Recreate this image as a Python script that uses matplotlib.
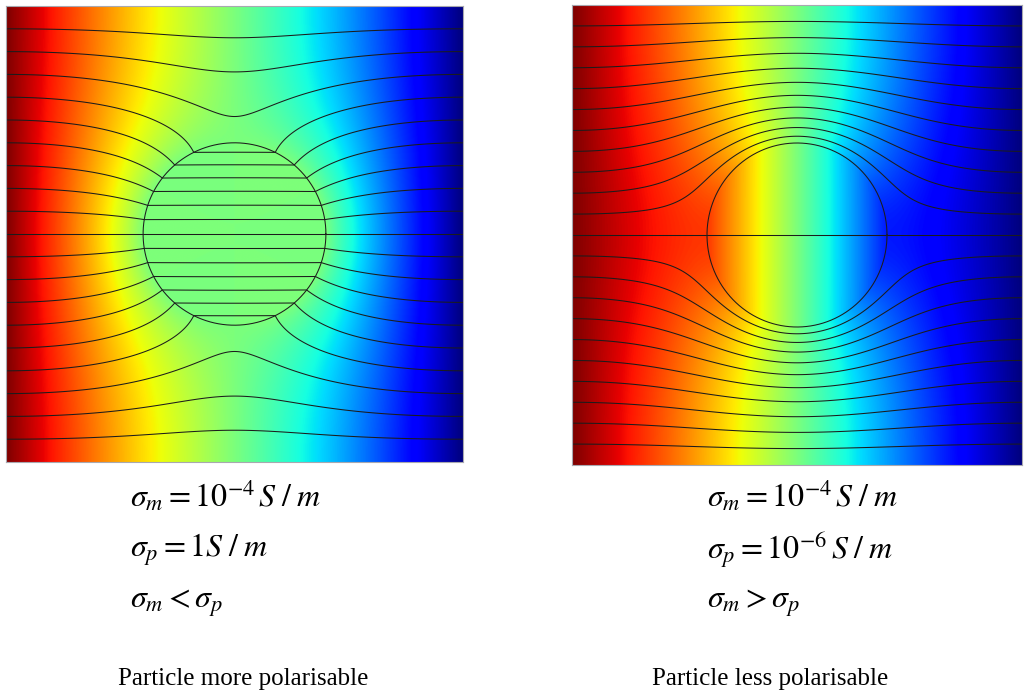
import numpy as np
import matplotlib
matplotlib.use("Agg")
import matplotlib.pyplot as plt

# Conductivities (S/m) of the suspending medium and of the particle, one entry per panel
sigma_medium = [1e-4, 1e-4]
sigma_particle = [1.0, 1e-6]
# Particle radius as a fraction of the square cell side
particle_radius = [0.2, 0.2]
# Streamlines seeded uniformly along the high-potential (left) electrode
n_seeds = [19, 21]

formula_lines = [
    [r"$\sigma_m = 10^{-4}\,S\;/\;m$", r"$\sigma_p = 1S\;/\;m$", r"$\sigma_m < \sigma_p$"],
    [r"$\sigma_m = 10^{-4}\,S\;/\;m$", r"$\sigma_p = 10^{-6}\,S\;/\;m$", r"$\sigma_m > \sigma_p$"],
]
captions = ["Particle more polarisable", "Particle less polarisable"]

# Cell geometry: electrodes at x = -W/2 (V=+0.5) and x = +W/2 (V=-0.5),
# insulating walls at y = -H and y = +H.
W = 1.0
H = 0.5
E0 = 1.0 / W
kk = np.pi / (2 * H)
NIMG = 10
NFOUR = 256


def lattice(z, regular=False):
    """Periodic dipole-image sum satisfying the wall conditions.
    With regular=True the 1/z singularity of the central dipole is removed."""
    z = np.asarray(z, dtype=complex)
    s = np.zeros_like(z)
    for n in range(-NIMG, NIMG + 1):
        with np.errstate(all="ignore"):
            if n == 0 and regular:
                t = kk / np.tanh(kk * z) - 1.0 / z
                t = np.where(np.abs(z) < 1e-6, kk ** 2 * z / 3.0, t)
            else:
                t = kk / np.tanh(kk * (z - n * W))
        s = s + t
    return s - (np.pi / (H * W)) * z


def outer_w(z, A):
    return -E0 * z + A * lattice(z)


def harmonic_extension(values, zeta, nterms=40):
    """Harmonic function inside the unit disc with the given boundary samples."""
    C = np.fft.rfft(values) / len(values)
    acc = np.zeros_like(zeta)
    for n in range(nterms, 0, -1):
        acc = (acc + 2.0 * C[n]) * zeta
    return (acc + C[0]).real


def solve_field(sig_m, sig_p, a, npts=700):
    K = (sig_p - sig_m) / (sig_p + sig_m)
    eps = 1e-3
    g1 = lattice(np.array([eps + 0j]), regular=True)[0].real / eps
    A = K * a ** 2 * E0 / (1.0 + K * a ** 2 * g1)

    x = np.linspace(-W / 2, W / 2, npts)
    y = np.linspace(-H, H, npts)
    X, Y = np.meshgrid(x, y)
    Z = X + 1j * Y
    inside = np.abs(Z) < a

    Zs = np.where(inside, 2.0 * a + 0j, Z)
    w = outer_w(Zs, A)
    phi = w.real.copy()
    psi = w.imag.copy()

    th = 2 * np.pi * np.arange(NFOUR) / NFOUR
    wb = outer_w(a * np.exp(1j * th), A)
    zeta = Z[inside] / a
    phi[inside] = harmonic_extension(wb.real, zeta)
    psi[inside] = harmonic_extension(wb.imag, zeta)
    return x, y, phi, psi, A


def seed_levels(A, n):
    ys = -H + 2 * H * np.arange(1, n + 1) / (n + 1)
    vals = outer_w(-W / 2 + 1j * ys, A).imag
    return np.sort(vals)


plt.rcParams["mathtext.fontset"] = "stix"

fig = plt.figure(figsize=(10.26, 6.98), dpi=100)
FW, FH = 1026.0, 698.0

panel_px = [(6, 6, 457, 456), (572, 5, 450, 460)]
text_x = [130, 707]
text_y = [496, 550, 603]
caption_x = [243, 770]
caption_y = 679

for i in range(2):
    x0, y0, w, h = panel_px[i]
    ax = fig.add_axes([x0 / FW, 1 - (y0 + h) / FH, w / FW, h / FH])
    a = particle_radius[i]
    x, y, phi, psi, A = solve_field(sigma_medium[i], sigma_particle[i], a)

    ax.imshow(phi, extent=[x[0], x[-1], y[0], y[-1]], origin="lower",
              cmap="jet", vmin=-0.5 * E0 * W, vmax=0.5 * E0 * W,
              interpolation="bilinear", aspect="auto")
    levels = seed_levels(A, n_seeds[i])
    ax.contour(x, y, psi, levels=levels, colors="#1c1c1c",
               linewidths=0.75, linestyles="solid")
    th = np.linspace(0, 2 * np.pi, 400)
    ax.plot(a * np.cos(th), a * np.sin(th), color="#1c1c1c", lw=0.75)

    ax.set_xlim(-W / 2, W / 2)
    ax.set_ylim(-H, H)
    ax.set_xticks([])
    ax.set_yticks([])
    for sp in ax.spines.values():
        sp.set_color("#a8a8b0")
        sp.set_linewidth(0.8)

    for j, s in enumerate(formula_lines[i]):
        fig.text(text_x[i] / FW, 1 - text_y[j] / FH, s, fontsize=23,
                 ha="left", va="center")
    fig.text(caption_x[i] / FW, 1 - caption_y / FH, captions[i],
             fontsize=18, family="Liberation Serif", ha="center", va="center")

fig.savefig("out.png", dpi=100)
